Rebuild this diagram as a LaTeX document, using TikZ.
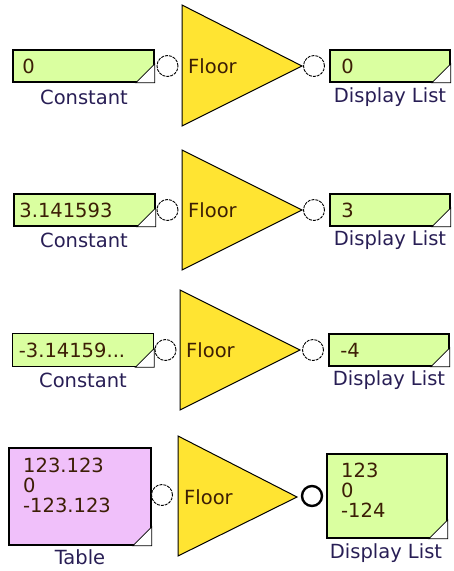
\documentclass[tikz,border=0pt]{standalone}
\usepackage{fontspec}
\setmainfont{DejaVu Sans}
\definecolor{boxgreen}{RGB}{218,255,160}
\definecolor{boxpink}{RGB}{240,192,250}
\definecolor{triyellow}{RGB}{255,228,50}
\definecolor{valcol}{RGB}{60,30,5}
\definecolor{lblcol}{RGB}{40,30,85}
\begin{document}
\begin{tikzpicture}[x=1pt,y=-1pt,font=\fontsize{19.5}{21}\selectfont,
  gbox/.style={draw=black,line width=1.6pt,fill=boxgreen,inner sep=0pt},
  pbox/.style={draw=black,line width=1.6pt,fill=boxpink,inner sep=0pt},
  valtext/.style={text=valcol,inner sep=0pt,anchor=west},
  lbl/.style={text=lblcol,inner sep=0pt},
  port/.style={circle,draw=black,line width=0.9pt,dash pattern=on 3pt off 1pt,fill=white,minimum size=21pt,inner sep=0pt},
  oport/.style={circle,draw=black,line width=2.4pt,fill=white,minimum size=20pt,inner sep=0pt},
  tri/.style={fill=triyellow,draw=black,line width=1pt,line join=miter},
  ftext/.style={text=valcol,inner sep=0pt,anchor=west},
  corner/.style={fill=white,draw=black,line width=0.8pt}]
\useasboundingbox (0,0) rectangle (454,571);

% ---------- Row 1 ----------
\node[gbox,minimum width=141pt,minimum height=32pt] (c1) at (83.5,66) {};
\draw[corner] (c1.south east) -- ++(-19,0) -- ++(19,-19) -- cycle;
\node[valtext] (c1v) at ([xshift=10pt]c1.west) {0};
\node[lbl] (c1l) at (84,97) {Constant};
\node[port] (i1) at (167.5,66) {};
\draw[tri] (182,5) -- (182,126) -- (302,66) -- cycle;
\node[ftext] (f1) at (188,66) {Floor};
\node[port] (o1) at (314,66) {};
\node[gbox,minimum width=120pt,minimum height=32pt] (d1) at (390,66) {};
\draw[corner] (d1.south east) -- ++(-19,0) -- ++(19,-19) -- cycle;
\node[valtext] (d1v) at ([xshift=12pt]d1.west) {0};
\node[lbl] (d1l) at (390,97) {Display List};

% ---------- Row 2 ----------
\node[gbox,minimum width=141pt,minimum height=32pt] (c2) at (84.5,210) {};
\draw[corner] (c2.south east) -- ++(-19,0) -- ++(19,-19) -- cycle;
\node[valtext] (c2v) at ([xshift=6pt]c2.west) {3.141593};
\node[lbl] (c2l) at (84,240) {Constant};
\node[port] (i2) at (167.5,210) {};
\draw[tri] (182,150) -- (182,270) -- (302,210) -- cycle;
\node[ftext] (f2) at (188,210) {Floor};
\node[port] (o2) at (314,210) {};
\node[gbox,minimum width=120pt,minimum height=32pt] (d2) at (390,210) {};
\draw[corner] (d2.south east) -- ++(-19,0) -- ++(19,-19) -- cycle;
\node[valtext] (d2v) at ([xshift=12pt]d2.west) {3};
\node[lbl] (d2l) at (390,240) {Display List};

% ---------- Row 3 ----------
\node[gbox,minimum width=141pt,minimum height=33pt] (c3) at (83,350) {};
\draw[corner] (c3.south east) -- ++(-19,0) -- ++(19,-19) -- cycle;
\node[valtext] (c3v) at ([xshift=7pt]c3.west) {-3.14159...};
\node[lbl] (c3l) at (83,380) {Constant};
\node[port] (i3) at (165.5,350) {};
\draw[tri] (180,290) -- (180,410) -- (300,350) -- cycle;
\node[ftext] (f3) at (186,350) {Floor};
\node[port] (o3) at (313,350) {};
\node[gbox,minimum width=120pt,minimum height=32pt] (d3) at (389,350) {};
\draw[corner] (d3.south east) -- ++(-19,0) -- ++(19,-19) -- cycle;
\node[valtext] (d3v) at ([xshift=12pt]d3.west) {-4};
\node[lbl] (d3l) at (389,380) {Display List};

% ---------- Row 4 ----------
\node[pbox,minimum width=142pt,minimum height=97pt] (t4) at (80,496.5) {};
\draw[corner] (t4.south east) -- ++(-19,0) -- ++(19,-19) -- cycle;
\node[valtext] (t4a) at (23,465) {123.123};
\node[valtext] (t4b) at (23,485) {0};
\node[valtext] (t4c) at (23,505) {-123.123};
\node[lbl] (t4l) at (80,557) {Table};
\node[port] (i4) at (162,495) {};
\draw[tri] (178,436) -- (178,556) -- (297,497) -- cycle;
\node[ftext] (f4) at (184,497) {Floor};
\node[oport] (o4) at (312,496) {};
\node[gbox,minimum width=120pt,minimum height=84pt] (d4) at (387,496) {};
\draw[corner] (d4.south east) -- ++(-19,0) -- ++(19,-19) -- cycle;
\node[valtext] (d4a) at (341,470) {123};
\node[valtext] (d4b) at (341,490) {0};
\node[valtext] (d4c) at (341,510) {-124};
\node[lbl] (d4l) at (386,553) {Display List};
\end{tikzpicture}
\end{document}
